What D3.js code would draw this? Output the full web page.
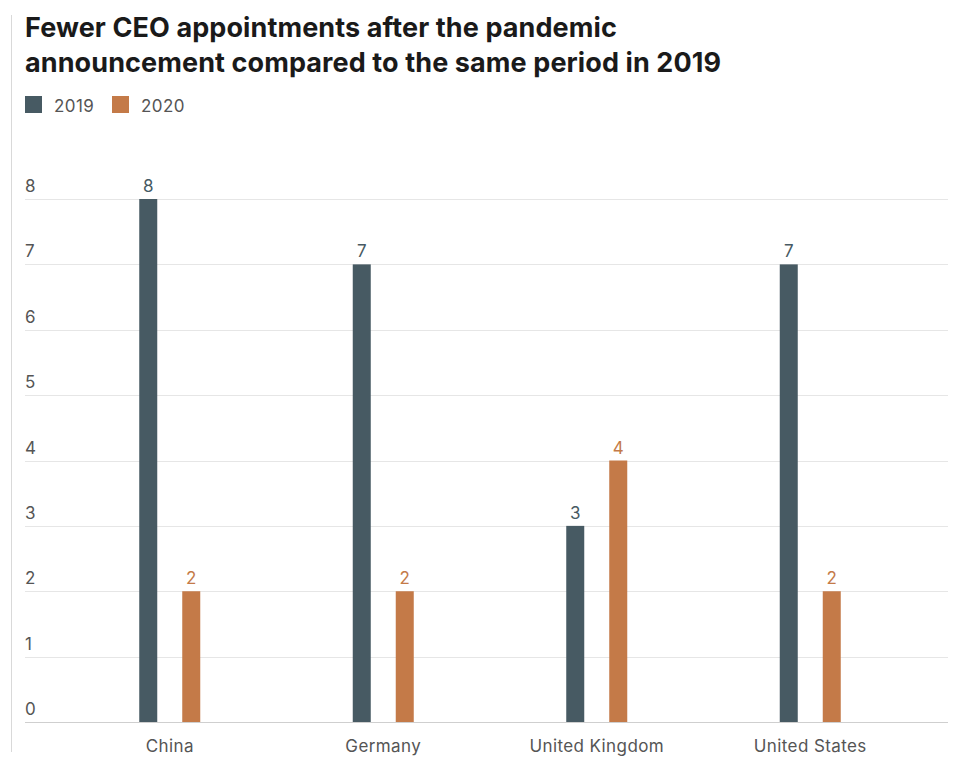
<!DOCTYPE html>
<html><head><meta charset="utf-8">
<script src="https://cdn.jsdelivr.net/npm/d3@7/dist/d3.min.js"></script>
<style>body{margin:0;background:#fff}svg{display:block}</style>
</head><body><svg id="c" width="960" height="772"></svg>
<script>
const categories = ["China", "Germany", "United Kingdom", "United States"];
const seriesNames = ["2019", "2020"];
const values2019 = [8, 7, 3, 7];
const values2020 = [2, 2, 4, 2];
const yTicks = [0, 1, 2, 3, 4, 5, 6, 7, 8];
const colors = ["#475a63", "#c47a48"];

const svg = d3.select("#c");
const font = "Inter, 'Noto Sans', sans-serif";
const fs = 17;
const ls = "0.4px";

svg.append("line").attr("x1", 11.5).attr("x2", 11.5).attr("y1", 15).attr("y2", 752)
  .attr("stroke", "#d9d9d9").attr("stroke-width", 1);

const title = svg.append("text").attr("font-family", font).attr("font-weight", 700)
  .attr("font-size", 27).attr("fill", "#1a1a1a").attr("letter-spacing", "0.1px");
title.append("tspan").attr("x", 25).attr("y", 37).text("Fewer CEO appointments after the pandemic");
title.append("tspan").attr("x", 25).attr("y", 72).text("announcement compared to the same period in 2019");

// legend
const legX = [25, 112];
seriesNames.forEach((s, i) => {
  svg.append("rect").attr("x", legX[i]).attr("y", 96).attr("width", 17).attr("height", 17).attr("fill", colors[i]);
  svg.append("text").attr("x", legX[i] + 29).attr("y", 112).attr("font-family", font)
    .attr("font-size", fs).attr("letter-spacing", ls).attr("fill", "#555").text(s);
});

const y = d3.scaleLinear().domain([0, 8]).range([722, 199]);
const x0 = d3.scaleBand().domain(categories).range([63, 917]);
const x1 = d3.scaleBand().domain(seriesNames).range([x0.bandwidth()/2 - 43, x0.bandwidth()/2 + 43]);

// gridlines
svg.append("g").selectAll("line").data(yTicks).join("line")
  .attr("x1", 25).attr("x2", 948).attr("y1", d => Math.round(y(d)) + 0.5).attr("y2", d => Math.round(y(d)) + 0.5)
  .attr("stroke", d => d === 0 ? "#cfcfcf" : "#e6e6e6").attr("stroke-width", 1);
svg.append("g").selectAll("text").data(yTicks).join("text")
  .attr("x", 25).attr("y", d => y(d) - 7).attr("font-family", font).attr("font-size", fs)
  .attr("fill", "#555").text(d => d);

const data = categories.map((c, i) => ({c, vals: [values2019[i], values2020[i]]}));
const bw = 18;
const g = svg.append("g").selectAll("g").data(data).join("g")
  .attr("transform", d => `translate(${x0(d.c)},0)`);
g.selectAll("rect").data(d => d.vals.map((v, i) => ({v, s: seriesNames[i], i}))).join("rect")
  .attr("x", d => x1(d.s) + x1.bandwidth()/2 - bw/2).attr("width", bw)
  .attr("y", d => y(d.v)).attr("height", d => y(0) - y(d.v)).attr("fill", d => colors[d.i]);
g.selectAll("text.v").data(d => d.vals.map((v, i) => ({v, s: seriesNames[i], i}))).join("text")
  .attr("class", "v").attr("x", d => x1(d.s) + x1.bandwidth()/2).attr("y", d => y(d.v) - 7)
  .attr("text-anchor", "middle").attr("font-family", font).attr("font-size", fs)
  .attr("fill", d => colors[d.i]).text(d => d.v);

svg.append("g").selectAll("text").data(categories).join("text")
  .attr("x", d => x0(d) + x0.bandwidth()/2).attr("y", 752).attr("text-anchor", "middle")
  .attr("font-family", font).attr("font-size", fs).attr("letter-spacing", ls).attr("fill", "#555").text(d => d);
</script></body></html>
